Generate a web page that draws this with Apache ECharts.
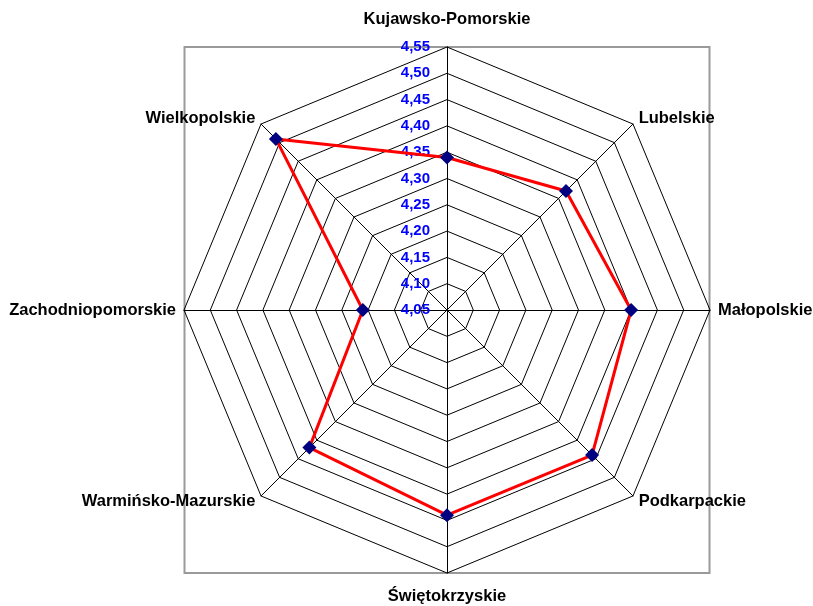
<!DOCTYPE html>
<html>
<head>
<meta charset="utf-8">
<script src="https://cdn.jsdelivr.net/npm/echarts@6/dist/echarts.min.js"></script>
<style>
html,body{margin:0;padding:0;background:#fff;}
#chart{width:813px;height:606px;}
</style>
</head>
<body>
<div id="chart"></div>
<script>
// Data (clockwise from top, as in the reference)
const categories = ['Kujawsko-Pomorskie','Lubelskie','Małopolskie','Podkarpackie','Świętokrzyskie','Warmińsko-Mazurskie','Zachodniopomorskie','Wielkopolskie'];
const values = [4.34, 4.37, 4.40, 4.44, 4.44, 4.42, 4.21, 4.51];
const axisMin = 4.05;
const axisMax = 4.55;
const axisSplits = 10;

// ECharts radar goes counter-clockwise; reorder so it reads clockwise
const order = [0, 7, 6, 5, 4, 3, 2, 1];
const fmt = v => Number(v).toFixed(2).replace('.', ',');
const FONT = '"Liberation Sans", Arial, sans-serif';
const nameGaps = {0: 19, 4: 15};

const indicators = order.map((i, k) => {
  const ind = { name: categories[i], min: axisMin, max: axisMax };
  if (nameGaps[i] != null) ind.nameGap = nameGaps[i];
  if (k === 0) ind.axisLabel = { show: true };
  return ind;
});
const seriesValues = order.map(i => values[i]);

const chart = echarts.init(document.getElementById('chart'), null, {renderer: 'canvas'});
chart.setOption({
  animation: false,
  backgroundColor: '#fff',
  graphic: [{
    type: 'rect', z: -1, silent: true,
    shape: { x: 184.5, y: 47, width: 525, height: 526 },
    style: { fill: 'none', stroke: '#9a9a9a', lineWidth: 2 }
  }],
  radar: {
    center: [447, 310],
    radius: 263,
    startAngle: 90,
    shape: 'polygon',
    splitNumber: axisSplits,
    nameGap: 8,
    axisName: { color: '#000', fontWeight: 'bold', fontSize: 16.5, fontFamily: FONT },
    splitLine: { lineStyle: { color: '#000', width: 1 } },
    splitArea: { show: false },
    axisLine: { lineStyle: { color: '#000', width: 1 } },
    axisTick: { show: false },
    axisLabel: {
      show: false, color: '#0000ff', fontWeight: 'bold', fontSize: 15,
      fontFamily: FONT, margin: 17,
      formatter: fmt
    },
    indicator: indicators
  },
  series: [{
    type: 'radar',
    symbol: 'diamond',
    symbolSize: 14,
    lineStyle: { color: '#ff0000', width: 3 },
    itemStyle: { color: '#000080' },
    data: [{ value: seriesValues, name: 'Średnia' }]
  }]
});
</script>
</body>
</html>
